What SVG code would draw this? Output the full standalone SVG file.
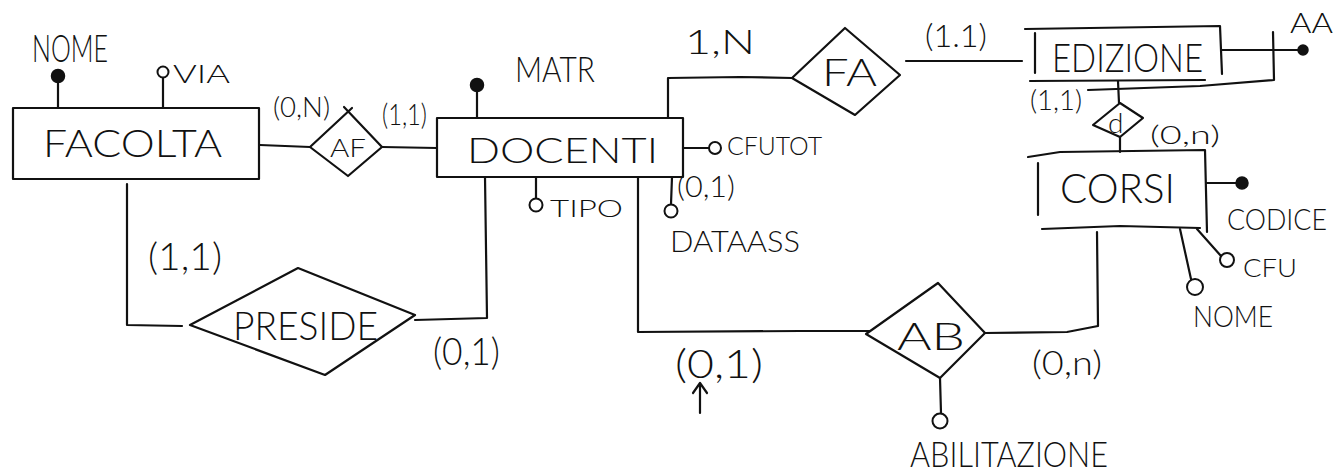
<svg xmlns="http://www.w3.org/2000/svg" width="1344" height="473" viewBox="0 0 1344 473">
<style>
  .ln{fill:none;stroke:#111;stroke-width:2.2;stroke-linecap:round;stroke-linejoin:round}
  .dot{fill:#111;stroke:#111;stroke-width:1.5}
  .oc{fill:#fff;stroke:#111;stroke-width:2}
  text{font-family:"Lato","Liberation Sans","DejaVu Sans",sans-serif;font-weight:300;fill:#111}
</style>
<rect width="1344" height="473" fill="#fff"/>

<g id="connectors">
  <path class="ln" d="M260 145 L310 147"/>
  <path class="ln" d="M382 147 L437 148"/>
  <path class="ln" d="M127 184 L127 325 L182 326"/>
  <path class="ln" d="M415 320 L487 318 L485 177"/>
  <path class="ln" d="M668 118 L668 78 L740 77 L792 78"/>
  <path class="ln" d="M906 61 L1022 61"/>
  <path class="ln" d="M1118 81 L1119 103"/>
  <path class="ln" d="M1120 137 L1120 152"/>
  <path class="ln" d="M638 177 L638 332 L800 331 L870 331"/>
  <path class="ln" d="M985 333 L1067 332 L1098 326 L1097 232"/>
</g>

<g id="facolta">
  <rect class="ln" x="13" y="108" width="246" height="71"/>
  <text x="43" y="157" font-size="38" textLength="179" lengthAdjust="spacingAndGlyphs">FACOLTA</text>
</g>
<g id="facolta-nome">
  <path class="ln" d="M58 82 L58 108"/>
  <circle class="dot" cx="58" cy="76" r="6.5"/>
  <text x="32" y="62" font-size="38" textLength="76" lengthAdjust="spacingAndGlyphs">NOME</text>
</g>
<g id="facolta-via">
  <path class="ln" d="M163 78 L163 108"/>
  <circle class="oc" cx="163" cy="72" r="5.5"/>
  <text x="173" y="83" font-size="25" textLength="57" lengthAdjust="spacingAndGlyphs">VIA</text>
</g>

<g id="af">
  <path class="ln" d="M310 147 L352 108 M344 107 L382 147 L348 176 L310 147"/>
  <text x="330" y="157" font-size="26" textLength="36" lengthAdjust="spacingAndGlyphs">AF</text>
  <text x="273" y="117" font-size="28" textLength="57" lengthAdjust="spacingAndGlyphs">(0,N)</text>
  <text x="382" y="125" font-size="30" textLength="45" lengthAdjust="spacingAndGlyphs">(1,1)</text>
</g>

<g id="docenti">
  <rect class="ln" x="437" y="118" width="246" height="59"/>
  <text x="467" y="163" font-size="36" textLength="191" lengthAdjust="spacingAndGlyphs">DOCENTI</text>
</g>
<g id="docenti-matr">
  <path class="ln" d="M477 91 L477 118"/>
  <circle class="dot" cx="477" cy="85" r="6.5"/>
  <text x="515" y="82" font-size="36" textLength="80" lengthAdjust="spacingAndGlyphs">MATR</text>
</g>
<g id="docenti-cfutot">
  <path class="ln" d="M683 148 L709 148"/>
  <circle class="oc" cx="715" cy="148" r="6"/>
  <text x="727" y="155" font-size="25" textLength="95" lengthAdjust="spacingAndGlyphs">CFUTOT</text>
</g>
<g id="docenti-tipo">
  <path class="ln" d="M536 177 L536 199"/>
  <circle class="oc" cx="536" cy="205" r="6.5"/>
  <text x="550" y="217" font-size="24" textLength="73" lengthAdjust="spacingAndGlyphs">TIPO</text>
</g>
<g id="docenti-dataass">
  <path class="ln" d="M672 177 L671 204"/>
  <circle class="oc" cx="671" cy="211" r="6.5"/>
  <text x="677" y="197" font-size="30" textLength="58" lengthAdjust="spacingAndGlyphs">(0,1)</text>
  <text x="670" y="252" font-size="30" textLength="130" lengthAdjust="spacingAndGlyphs">DATAASS</text>
</g>

<g id="fa">
  <polygon class="ln" points="792,78 845,28 900,75 855,115"/>
  <text x="822" y="86" font-size="38" textLength="55" lengthAdjust="spacingAndGlyphs">FA</text>
  <text x="685" y="54" font-size="34" textLength="70" lengthAdjust="spacingAndGlyphs">1,N</text>
  <text x="925" y="47" font-size="32" textLength="62" lengthAdjust="spacingAndGlyphs">(1.1)</text>
</g>

<g id="edizione">
  <path class="ln" d="M1025 29 L1220 26 L1222 74 M1035 33 L1035 73 M1030 81 L1205 80"/>
  <text x="1052" y="72" font-size="40" textLength="151" lengthAdjust="spacingAndGlyphs">EDIZIONE</text>
</g>
<g id="edizione-aa">
  <path class="ln" d="M1222 50 L1298 50"/>
  <circle class="dot" cx="1303" cy="50" r="5"/>
  <text x="1290" y="33" font-size="28" textLength="43" lengthAdjust="spacingAndGlyphs">AA</text>
  <path class="ln" d="M1273 32 L1274 80 L1200 86 L1088 90"/>
</g>

<g id="d">
  <polygon class="ln" points="1093,125 1120,103 1143,118 1120,137"/>
  <text x="1108" y="133" font-size="28">d</text>
  <text x="1030" y="110" font-size="28" textLength="52" lengthAdjust="spacingAndGlyphs">(1,1)</text>
  <text x="1150" y="144" font-size="26" textLength="70" lengthAdjust="spacingAndGlyphs">(0,n)</text>
</g>

<g id="corsi">
  <path class="ln" d="M1028 157 L1060 152 L1205 150 L1207 232 M1038 163 L1038 215 M1042 229 L1120 226 L1200 228"/>
  <text x="1060" y="203" font-size="42" textLength="115" lengthAdjust="spacingAndGlyphs">CORSI</text>
</g>
<g id="corsi-codice">
  <path class="ln" d="M1207 183 L1236 183"/>
  <circle class="dot" cx="1242" cy="183" r="6"/>
  <text x="1227" y="230" font-size="30" textLength="100" lengthAdjust="spacingAndGlyphs">CODICE</text>
</g>
<g id="corsi-cfu">
  <path class="ln" d="M1197 229 L1221 256"/>
  <circle class="oc" cx="1227" cy="260" r="7"/>
  <text x="1243" y="277" font-size="26" textLength="54" lengthAdjust="spacingAndGlyphs">CFU</text>
</g>
<g id="corsi-nome">
  <path class="ln" d="M1180 229 L1191 279"/>
  <circle class="oc" cx="1195" cy="287" r="8"/>
  <text x="1193" y="327" font-size="30" textLength="80" lengthAdjust="spacingAndGlyphs">NOME</text>
</g>

<g id="preside">
  <polygon class="ln" points="190,325 298,268 415,315 325,375"/>
  <text x="233" y="340" font-size="40" textLength="145" lengthAdjust="spacingAndGlyphs">PRESIDE</text>
  <text x="148" y="270" font-size="38" textLength="74" lengthAdjust="spacingAndGlyphs">(1,1)</text>
  <text x="433" y="365" font-size="38" textLength="67" lengthAdjust="spacingAndGlyphs">(0,1)</text>
</g>

<g id="ab">
  <polygon class="ln" points="866,334 938,283 985,333 940,378"/>
  <text x="897" y="350" font-size="38" textLength="68" lengthAdjust="spacingAndGlyphs">AB</text>
  <text x="675" y="378" font-size="40" textLength="88" lengthAdjust="spacingAndGlyphs">(0,1)</text>
  <path class="ln" d="M700 413 L700 384 M693 393 L700 383 L707 393"/>
  <text x="1032" y="375" font-size="34" textLength="70" lengthAdjust="spacingAndGlyphs">(0,n)</text>
</g>
<g id="ab-abilitazione">
  <path class="ln" d="M940 378 L941 413"/>
  <circle class="oc" cx="940" cy="421" r="7.5"/>
  <text x="910" y="467" font-size="36" textLength="198" lengthAdjust="spacingAndGlyphs">ABILITAZIONE</text>
</g>
</svg>
